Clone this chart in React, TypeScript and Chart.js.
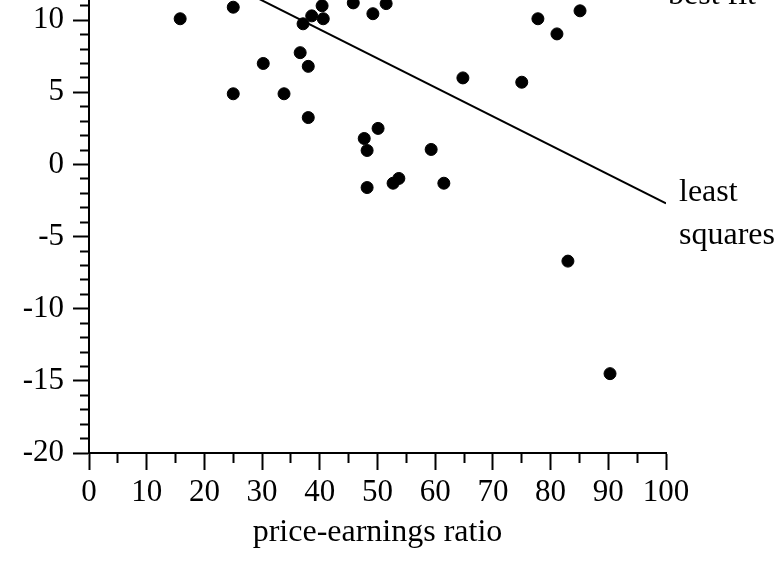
import React, { useEffect, useRef } from "react";
import { Chart, registerables } from "chart.js";

Chart.register(...registerables);

// price-earnings ratio (x) and return (y) for each company
const peRatio = [
  15.8, 25.0, 25.0, 30.2, 33.8, 36.6, 38.0, 38.0, 37.1, 38.6,
  40.4, 40.6, 45.8, 49.2, 51.5, 77.8, 85.1, 81.1, 64.8, 75.0,
  50.1, 47.7, 48.2, 59.3, 48.2, 52.7, 53.7, 61.5, 83.0, 90.3,
];
const returns = [
  10.1, 10.9, 4.9, 7.0, 4.9, 7.75, 6.8, 3.25, 9.75, 10.3,
  11.0, 10.1, 11.2, 10.45, 11.15, 10.1, 10.65, 9.05, 6.0, 5.7,
  2.5, 1.8, 0.97, 1.04, -1.6, -1.3, -0.97, -1.3, -6.7, -14.5,
];

// least squares line end points
const fitX = [0, 100];
const fitY = [17.4, -2.7];
const fitLabel = ["least", "squares"];
const upperLabel = "best fit";

const xTitle = "price-earnings ratio";
const xMin = 0;
const xMax = 100;
const yMin = -20;
const yMax = 11.4;

const FAMILY = '"Liberation Serif", "Times New Roman", serif';
const TICK_FONT = { family: FAMILY, size: 31 };
const TITLE_FONT = { family: FAMILY, size: 32 };
const LABEL_CSS = '32px "Liberation Serif", "Times New Roman", serif';

const labelPlugin = {
  id: "lineLabels",
  afterDatasetsDraw(chart: any) {
    const { ctx, scales, chartArea } = chart;
    const px = scales.x.getPixelForValue(fitX[1]);
    const py = scales.y.getPixelForValue(fitY[1]);
    ctx.save();
    ctx.fillStyle = "#000";
    ctx.font = LABEL_CSS;
    ctx.textAlign = "left";
    ctx.textBaseline = "alphabetic";
    fitLabel.forEach((t, i) => ctx.fillText(t, px + 13, py - 2 + i * 43));
    ctx.fillText(upperLabel, chartArea.right + 2, chartArea.top + 4);
    ctx.restore();
  },
};

export default function App() {
  const ref = useRef<HTMLCanvasElement | null>(null);

  useEffect(() => {
    if (!ref.current) return;
    const points = peRatio.map((x, i) => ({ x, y: returns[i] }));
    const line = fitX.map((x, i) => ({ x, y: fitY[i] }));
    const chart = new Chart(ref.current, {
      type: "scatter",
      data: {
        datasets: [
          {
            type: "line",
            data: line,
            borderColor: "#000",
            borderWidth: 2,
            pointRadius: 0,
            fill: false,
          } as any,
          {
            data: points,
            backgroundColor: "#000",
            borderColor: "#000",
            borderWidth: 1,
            pointRadius: 6,
            pointStyle: "circle",
          },
        ],
      },
      options: {
        animation: false,
        responsive: false,
        maintainAspectRatio: false,
        layout: { autoPadding: false, padding: { left: 0, right: 111, top: 0, bottom: 0 } },
        plugins: { legend: { display: false }, tooltip: { enabled: false } },
        scales: {
          x: {
            type: "linear",
            position: "bottom",
            min: xMin,
            max: xMax,
            border: { display: true, color: "#000", width: 2 },
            grid: {
              drawOnChartArea: false,
              drawTicks: true,
              tickLength: 17,
              tickWidth: 2,
              tickColor: "#000",
              tickBorderDash: (c: any) =>
                c.tick && c.tick.value % 10 === 0 ? [] : [9, 100],
            },
            ticks: {
              stepSize: 5,
              autoSkip: false,
              maxRotation: 0,
              minRotation: 0,
              includeBounds: false,
              maxTicksLimit: 1000,
              padding: 4,
              color: "#000",
              font: TICK_FONT,
              callback: (v: any) => (Number(v) % 10 === 0 ? String(v) : ""),
            },
            title: {
              display: true,
              text: xTitle,
              color: "#000",
              font: TITLE_FONT,
              padding: { top: 0, bottom: 23 },
            },
            afterFit: (s: any) => {
              s.height = 122;
              s.paddingLeft = 0;
              s.paddingRight = 0;
            },
          },
          y: {
            type: "linear",
            position: "left",
            min: yMin,
            max: yMax,
            border: { display: true, color: "#000", width: 2 },
            grid: {
              drawOnChartArea: false,
              drawTicks: true,
              tickLength: 16,
              tickWidth: 2,
              tickColor: "#000",
              tickBorderDash: (c: any) =>
                c.tick && c.tick.value % 5 === 0 ? [] : [0, 7, 9, 100],
            },
            ticks: {
              stepSize: 1,
              autoSkip: false,
              includeBounds: false,
              maxTicksLimit: 1000,
              padding: 9,
              color: "#000",
              font: TICK_FONT,
              callback: (v: any) => (Number(v) % 5 === 0 ? String(v) : ""),
            },
            afterFit: (s: any) => {
              s.width = 89;
              s.paddingTop = 0;
              s.paddingBottom = 0;
            },
          },
        },
      },
      plugins: [labelPlugin],
    });
    return () => chart.destroy();
  }, []);

  return (
    <div style={{ position: "fixed", left: 0, top: 0, width: 777, height: 575, background: "#fff" }}>
      <canvas ref={ref} width={777} height={575} style={{ width: 777, height: 575, display: "block" }} />
    </div>
  );
}
